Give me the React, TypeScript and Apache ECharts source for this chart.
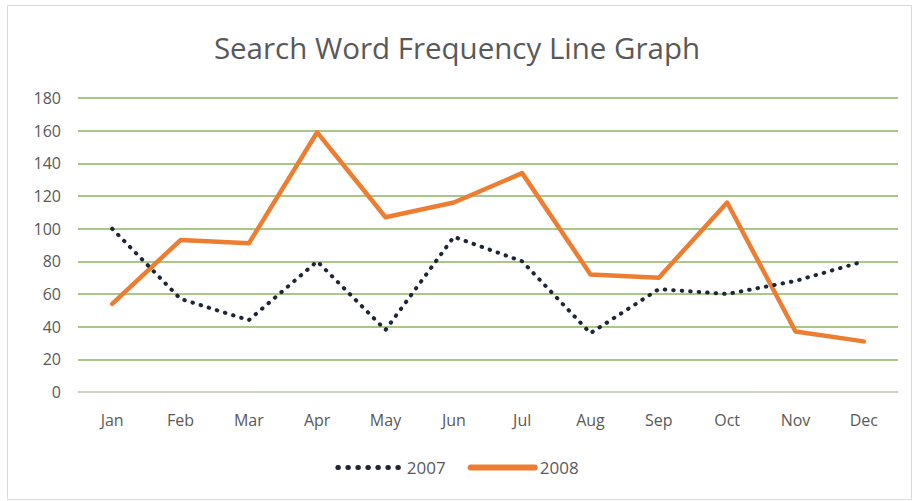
import React, { useEffect, useRef } from "react";
import * as echarts from "echarts";

const months = ["Jan", "Feb", "Mar", "Apr", "May", "Jun", "Jul", "Aug", "Sep", "Oct", "Nov", "Dec"];
const values2007 = [100, 57, 44, 80, 38, 95, 80, 36, 63, 60, 68, 80];
const values2008 = [54, 93, 91, 159, 107, 116, 134, 72, 70, 116, 37, 31];

export default function App() {
  const ref = useRef<HTMLDivElement>(null);
  useEffect(() => {
    if (!ref.current) return;
    const chart = echarts.init(ref.current, undefined, { renderer: "svg" });
    const font = "Open Sans";
    chart.setOption({
      animation: false,
      backgroundColor: "#ffffff",
      textStyle: { fontFamily: font },
      graphic: [
        {
          type: "rect",
          shape: { x: 7.5, y: 5.5, width: 904, height: 494 },
          style: { fill: "none", stroke: "#d9d9d9", lineWidth: 1 },
          z: -1,
        },
      ],
      title: {
        text: "Search Word Frequency Line Graph",
        left: "center",
        top: 27,
        textStyle: { fontFamily: font, fontSize: 29.5, fontWeight: "normal", color: "#595959" },
      },
      legend: {
        bottom: 20,
        left: "center",
        itemWidth: 64,
        itemHeight: 14,
        itemGap: 22,
        itemStyle: { opacity: 0 },
        textStyle: { fontFamily: font, fontSize: 17, color: "#595959" },
        data: [
          {
            name: "2007",
            itemStyle: { opacity: 0 },
            lineStyle: { color: "#1e2636", width: 5, type: [0.5, 9.5], cap: "round" },
          },
          {
            name: "2008",
            itemStyle: { opacity: 0 },
            lineStyle: { color: "#ed7d31", width: 6, cap: "round" },
          },
        ],
      },
      grid: { left: 78, right: 16, top: 98, bottom: 109 },
      xAxis: {
        type: "category",
        data: months,
        boundaryGap: true,
        axisLine: { lineStyle: { color: "#d9d9d9", width: 1.5 } },
        axisTick: { show: false },
        axisLabel: { color: "#595959", fontSize: 16, margin: 20, fontFamily: font },
      },
      yAxis: {
        type: "value",
        min: 0,
        max: 180,
        interval: 20,
        axisLine: { show: false },
        axisTick: { show: false },
        axisLabel: { color: "#595959", fontSize: 16, margin: 17, fontFamily: font },
        splitLine: { lineStyle: { color: "#8db560", width: 1.5 } },
      },
      series: [
        {
          name: "2007",
          type: "line",
          data: values2007,
          symbol: "none",
          lineStyle: { color: "#1e2636", width: 4, type: [0.5, 8], cap: "round" },
          itemStyle: { color: "#1e2636" },
          z: 3,
        },
        {
          name: "2008",
          type: "line",
          data: values2008,
          symbol: "none",
          lineStyle: { color: "#ed7d31", width: 4.5, cap: "round", join: "round" },
          itemStyle: { color: "#ed7d31" },
          z: 2,
        },
      ],
    });
    return () => chart.dispose();
  }, []);
  return (
    <div
      ref={ref}
      style={{ position: "fixed", left: 0, top: 0, width: 914, height: 501 }}
    />
  );
}
